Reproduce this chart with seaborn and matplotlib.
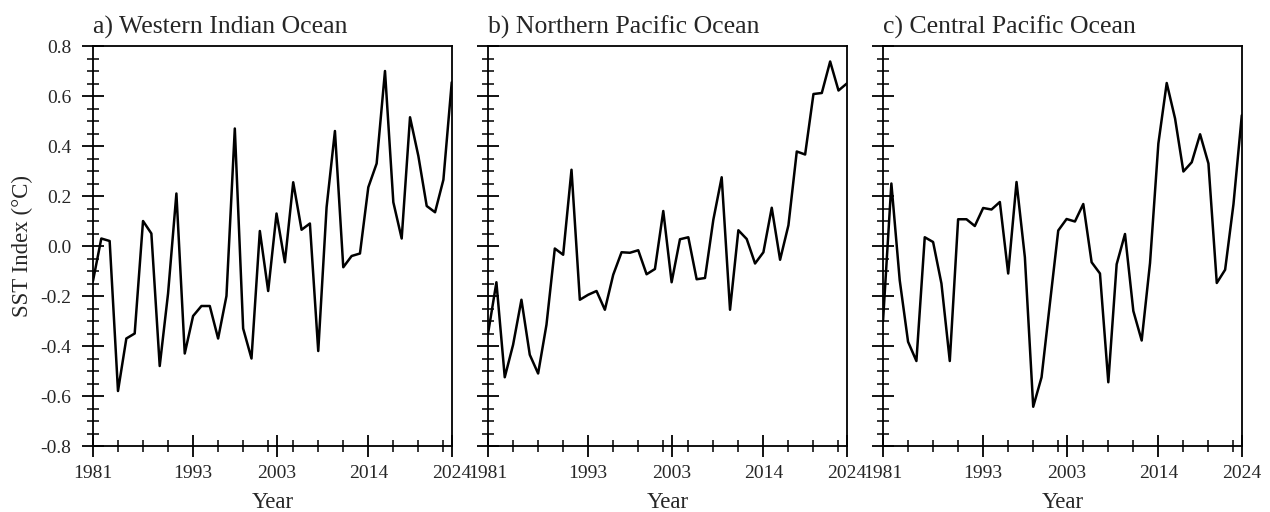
import numpy as np
import pandas as pd
import matplotlib
matplotlib.use("Agg")
import matplotlib.pyplot as plt
from matplotlib.ticker import FixedLocator, MultipleLocator, FormatStrFormatter
import seaborn as sns

years = list(range(1981, 2025))

western_indian = [
    -0.14, 0.03, 0.02, -0.58, -0.37, -0.35, 0.10, 0.05, -0.48, -0.19,
    0.21, -0.43, -0.28, -0.24, -0.24, -0.37, -0.20, 0.47, -0.33, -0.45,
    0.06, -0.18, 0.13, -0.065, 0.255, 0.065, 0.09, -0.42, 0.155, 0.46,
    -0.085, -0.04, -0.03, 0.235, 0.33, 0.70, 0.175, 0.03, 0.515, 0.36,
    0.16, 0.135, 0.265, 0.655,
]

northern_pacific = [
    -0.35, -0.145, -0.525, -0.395, -0.215, -0.435, -0.51, -0.315, -0.01, -0.035,
    0.305, -0.215, -0.195, -0.18, -0.255, -0.115, -0.025, -0.027, -0.017, -0.113,
    -0.092, 0.14, -0.145, 0.027, 0.035, -0.133, -0.128, 0.105, 0.275, -0.255,
    0.063, 0.028, -0.07, -0.025, 0.153, -0.055, 0.083, 0.378, 0.366, 0.608,
    0.612, 0.738, 0.622, 0.65,
]

central_pacific = [
    -0.30, 0.25, -0.137, -0.383, -0.46, 0.035, 0.016, -0.15, -0.46, 0.107,
    0.107, 0.08, 0.152, 0.146, 0.176, -0.11, 0.256, -0.045, -0.643, -0.525,
    -0.23, 0.062, 0.108, 0.098, 0.168, -0.065, -0.11, -0.545, -0.073, 0.048,
    -0.26, -0.378, -0.068, 0.41, 0.652, 0.51, 0.298, 0.335, 0.447, 0.33,
    -0.148, -0.095, 0.167, 0.523,
]

titles = ["a) Western Indian Ocean", "b) Northern Pacific Ocean", "c) Central Pacific Ocean"]
series = [western_indian, northern_pacific, central_pacific]

major_years = [1981, 1993, 2003, 2014, 2024]
minor_years = list(range(1981, 2025, 3))

sns.set_style("ticks")
plt.rcParams["font.family"] = ["Liberation Serif", "DejaVu Serif"]
plt.rcParams["axes.unicode_minus"] = False

fig = plt.figure(figsize=(12.7, 5.12), dpi=100)
lefts = [0.0732, 0.3843, 0.6953]
width, bottom, height = 0.2825, 0.1289, 0.78125

for i, (title, values) in enumerate(zip(titles, series)):
    ax = fig.add_axes([lefts[i], bottom, width, height])
    df = pd.DataFrame({"Year": years, "SST": values})
    sns.lineplot(data=df, x="Year", y="SST", ax=ax, color="black", linewidth=1.8)

    ax.set_xlim(1981, 2024)
    ax.set_ylim(-0.8, 0.8)
    ax.xaxis.set_major_locator(FixedLocator(major_years))
    ax.xaxis.set_minor_locator(FixedLocator(minor_years))
    ax.yaxis.set_major_locator(MultipleLocator(0.2))
    ax.yaxis.set_minor_locator(MultipleLocator(0.05))
    ax.yaxis.set_major_formatter(FormatStrFormatter("%.1f"))

    ax.tick_params(which="major", direction="inout", length=16, width=1.3,
                   labelsize=14, color="black")
    ax.tick_params(which="minor", direction="inout", length=8, width=1.1, color="black")
    ax.tick_params(axis="x", which="major", pad=6)
    ax.tick_params(axis="y", which="major", pad=7.5)
    ax.tick_params(axis="y", which="both", right=False)
    ax.tick_params(axis="x", which="both", top=False)

    for side in ["left", "right", "top", "bottom"]:
        ax.spines[side].set_visible(True)
        ax.spines[side].set_linewidth(1.3)
        ax.spines[side].set_color("black")

    ax.set_xlabel("Year", fontsize=16.5, labelpad=7)
    if i == 0:
        ax.set_ylabel("SST Index (°C)", fontsize=16.5, labelpad=5)
    else:
        ax.set_ylabel("")
        ax.tick_params(axis="y", which="both", labelleft=False)

    ax.set_title(title, loc="left", fontsize=18.5, pad=9)

fig.savefig("out.png", dpi=100, facecolor="white")
